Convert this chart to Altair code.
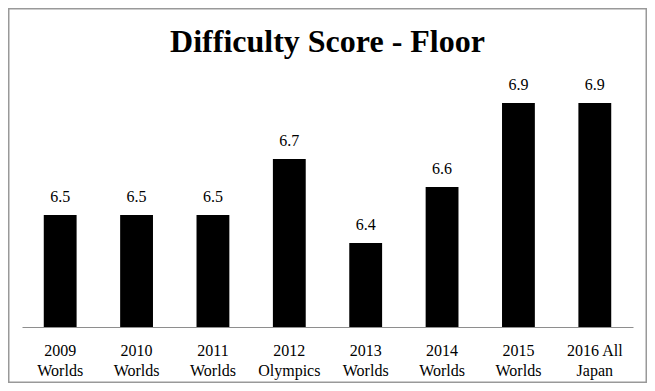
import altair as alt
import pandas as pd

categories = ["2009\nWorlds", "2010\nWorlds", "2011\nWorlds", "2012\nOlympics",
              "2013\nWorlds", "2014\nWorlds", "2015\nWorlds", "2016 All\nJapan"]
scores = [6.5, 6.5, 6.5, 6.7, 6.4, 6.6, 6.9, 6.9]

df = pd.DataFrame({"event": categories, "score": scores})

FONT = "Liberation Serif"

x = alt.X("event:N", sort=categories, title=None,
          scale=alt.Scale(paddingInner=0.57, paddingOuter=0.285),
          axis=alt.Axis(labelAngle=0, labelExpr="split(datum.label, '\\n')",
                        labelFont=FONT, labelFontSize=16, labelColor="black",
                        labelLineHeight=20, labelBaseline="top",
                        labelPadding=15, ticks=False, tickSize=0,
                        domainColor="#8e8e8e", domainWidth=1, grid=False))
y = alt.Y("score:Q", scale=alt.Scale(domain=[6.1, 7.0], zero=False, nice=False),
          axis=None)

bars = alt.Chart(df).mark_bar(color="black", clip=True).encode(x=x, y=y)
labels = alt.Chart(df).mark_text(font=FONT, fontSize=16, color="black",
                                 baseline="alphabetic", dy=-13).encode(
    x=x, y=y, text=alt.Text("score:Q", format=".1f"))

border = alt.Chart(pd.DataFrame({"k": [0]})).mark_rect(
    fill=None, stroke="#999999", strokeWidth=1.5, clip=False).encode(
    x=alt.value(-13.25), x2=alt.value(624.25), y=alt.value(-66.25), y2=alt.value(307.25))

chart = alt.layer(border, bars, labels).properties(
    width=611, height=252,
    title=alt.TitleParams("Difficulty Score - Floor", font=FONT, fontSize=32,
                          fontWeight="bold", color="black", anchor="middle",
                          baseline="alphabetic", offset=-76),
    autosize=alt.AutoSizeParams(type="none"),
    padding={"left": 14, "top": 67, "right": 14, "bottom": 56},
).configure_view(stroke=None)

chart.save("out.html", embed_options={"renderer": "svg", "actions": False})
